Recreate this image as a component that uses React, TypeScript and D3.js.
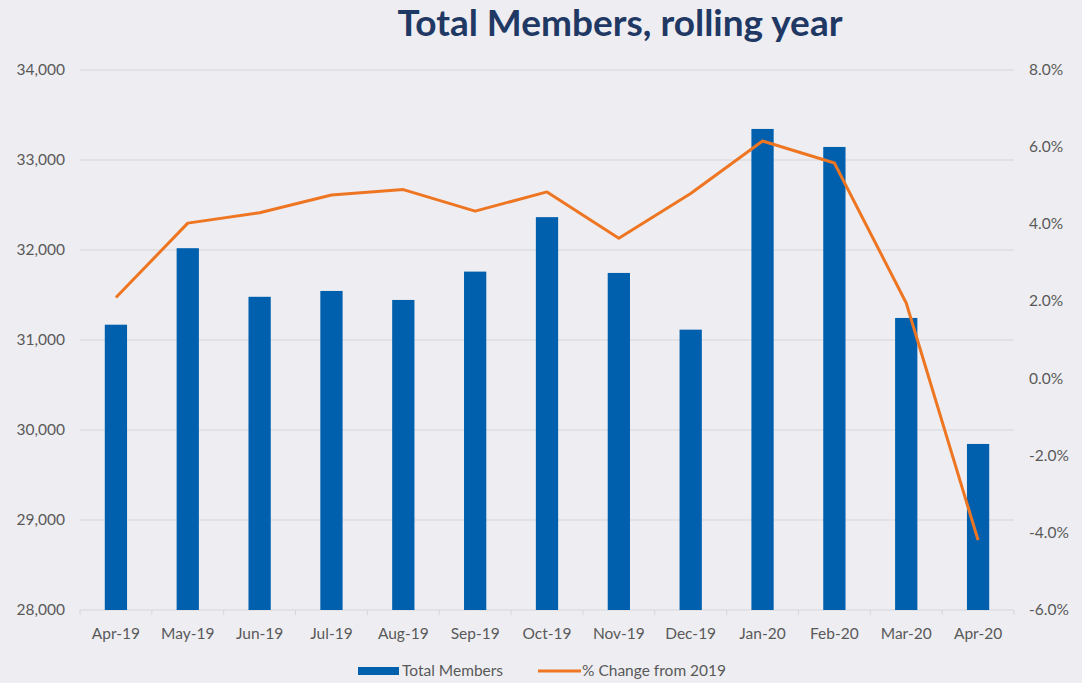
import React from "react";
import * as d3 from "d3";

const categories = ["Apr-19","May-19","Jun-19","Jul-19","Aug-19","Sep-19","Oct-19","Nov-19","Dec-19","Jan-20","Feb-20","Mar-20","Apr-20"];
const totalMembers = [31170, 32020, 31480, 31545, 31445, 31760, 32365, 31745, 31115, 33345, 33145, 31245, 29845];
const pctChange = [2.1, 4.03, 4.3, 4.76, 4.9, 4.34, 4.84, 3.64, 4.8, 6.16, 5.59, 1.96, -4.19];
const leftTicks = [28000, 29000, 30000, 31000, 32000, 33000, 34000];
const rightTicks = [-6, -4, -2, 0, 2, 4, 6, 8];

const W = 1082, H = 683;
const M = { left: 80, right: 1014, top: 70, bottom: 610 };
const FONT = "Lato, 'Open Sans', sans-serif";
const FS = 15.5;

export default function App() {
  const x = d3.scaleBand<string>().domain(categories).range([M.left, M.right]).paddingInner(0.69).paddingOuter(0.345);
  const yL = d3.scaleLinear().domain([28000, 34000]).range([M.bottom, M.top]);
  const yR = d3.scaleLinear().domain([-6, 8]).range([M.bottom, M.top]);
  const cx = (c: string) => (x(c) as number) + x.bandwidth() / 2;
  const line = d3.line<number>().x((_, i) => cx(categories[i])).y((d) => yR(d));
  const fmtL = d3.format(",");
  const fmtR = (v: number) => v.toFixed(1) + "%";
  const step = (M.right - M.left) / categories.length;

  return (
    <svg width={W} height={H} style={{ position: "absolute", left: 0, top: 0, background: "#EEEEF2" }}>
      <rect x={0} y={0} width={W} height={H} fill="#EEEEF2" />
      <text x={620} y={36} textAnchor="middle" fontFamily={FONT} fontWeight={700} fontSize={37} fill="#1F3864">Total Members, rolling year</text>
      {leftTicks.map((t) => (
        <line key={t} x1={M.left} x2={M.right} y1={yL(t)} y2={yL(t)} stroke="#D6D6DA" strokeWidth={1} />
      ))}
      {categories.map((c, i) => (
        <line key={"tk" + i} x1={M.left + step * i} x2={M.left + step * i} y1={M.bottom} y2={M.bottom + 5} stroke="#D6D6DA" />
      ))}
      <line x1={M.right} x2={M.right} y1={M.bottom} y2={M.bottom + 5} stroke="#D6D6DA" />
      {leftTicks.map((t) => (
        <text key={"l" + t} x={65} y={yL(t) + 5} textAnchor="end" fontFamily={FONT} fontSize={FS} fill="#595959">{fmtL(t)}</text>
      ))}
      {rightTicks.map((t) => (
        <text key={"r" + t} x={1029} y={yR(t) + 5} textAnchor="start" fontFamily={FONT} fontSize={FS} fill="#595959">{fmtR(t)}</text>
      ))}
      {categories.map((c, i) => (
        <rect key={c} x={x(c)} y={yL(totalMembers[i])} width={x.bandwidth()} height={M.bottom - yL(totalMembers[i])} fill="#0160AE" />
      ))}
      <path d={line(pctChange) || ""} fill="none" stroke="#EE7623" strokeWidth={3} strokeLinejoin="round" />
      {categories.map((c) => (
        <text key={"x" + c} x={cx(c)} y={639} textAnchor="middle" fontFamily={FONT} fontSize={FS} fill="#595959">{c}</text>
      ))}
      <rect x={358} y={667} width={41} height={8} fill="#0160AE" />
      <text x={402} y={676} fontFamily={FONT} fontSize={FS} fill="#595959">Total Members</text>
      <line x1={538} x2={581} y1={671} y2={671} stroke="#EE7623" strokeWidth={3} />
      <text x={582} y={676} fontFamily={FONT} fontSize={FS} fill="#595959">% Change from 2019</text>
    </svg>
  );
}
